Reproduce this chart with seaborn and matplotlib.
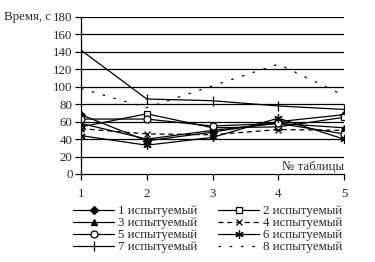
import matplotlib
matplotlib.use("Agg")
import matplotlib.pyplot as plt
import seaborn as sns
import pandas as pd

tables = [1, 2, 3, 4, 5]
s1 = [68, 38, 48, 60, 68]
s2 = [54, 69, 53, 54, 65]
s3 = [58, 40, 50, 58, 53]
s4 = [52, 46, 45, 51, 50]
s5 = [63, 63, 55, 58, 46]
s6 = [44, 33, 42, 64, 40]
s7 = [142, 86, 84, 78, 74]
s8 = [98, 76, 101, 126, 90]
labels = [f"{i} испытуемый" for i in range(1, 9)]
series = [s1, s2, s3, s4, s5, s6, s7, s8]

sns.set_theme(style="white")
plt.rcParams['font.family'] = ['Liberation Serif', 'DejaVu Serif']

fig = plt.figure(figsize=(3.75, 2.62), dpi=100)
ax = fig.add_axes([81/375, 1-174/262, 263/375, 157/262])

styles = [
    dict(marker='D', markersize=4, mfc='black', linestyle='-'),
    dict(marker='s', markersize=5, mfc='white', linestyle='-'),
    dict(marker='^', markersize=5, mfc='black', linestyle='-'),
    dict(marker='x', markersize=4, mfc='black', linestyle=(0, (4, 3))),
    dict(marker='o', markersize=5, mfc='white', linestyle='-'),
    dict(marker=(6, 2, 0), markersize=6, mfc='black', linestyle='-'),
    dict(marker='|', markersize=7, mfc='black', linestyle='-'),
    dict(marker=None, linestyle=(0, (2, 7))),
]

for vals, lab, st in zip(series, labels, styles):
    df = pd.DataFrame({"table": tables, "time": vals})
    sns.lineplot(data=df, x="table", y="time", ax=ax, color='black',
                 linewidth=0.9, label=lab, mec='black', mew=0.9, **st)

ax.set_xlim(1, 5)
ax.set_ylim(0, 180)
ax.set_yticks(range(0, 181, 20))
ax.set_xticks(tables)
ax.set_xlabel("")
ax.set_ylabel("")
for y in range(20, 181, 20):
    ax.axhline(y, color='black', linewidth=0.9, zorder=0)
for side in ['top', 'right']:
    ax.spines[side].set_visible(False)
for side in ['left', 'bottom']:
    ax.spines[side].set_color('black')
    ax.spines[side].set_linewidth(0.9)
ax.tick_params(axis='y', direction='out', length=4, width=0.9, color='black',
               labelsize=9.3, pad=2, left=True)
ax.tick_params(axis='x', direction='out', length=4, width=0.9, color='black',
               labelsize=9.3, pad=6, bottom=True)
ax.text(5, 1, "№ таблицы", ha='right', va='bottom', fontsize=9.3)
fig.text(4/375, 1-17/262, "Время, с", ha='left', va='center', fontsize=9.3)

handles, labs = ax.get_legend_handles_labels()
order = [0, 2, 4, 6, 1, 3, 5, 7]
leg = ax.legend([handles[i] for i in order], [labs[i] for i in order],
                loc='upper left', bbox_to_anchor=(73/375, 1-205/262),
                bbox_transform=fig.transFigure, ncol=2, frameon=False,
                fontsize=9.3, handlelength=3.2, handletextpad=0.3,
                columnspacing=1.6, labelspacing=0.0, borderaxespad=0,
                borderpad=0)

fig.savefig("out.png", dpi=100)
